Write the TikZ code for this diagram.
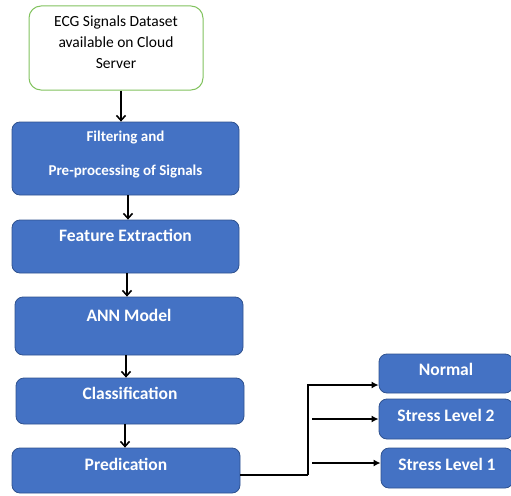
\documentclass[tikz,border=0pt]{standalone}
\usepackage{xcolor}
\usepackage{fontspec}
\setmainfont{Carlito}
\usepackage{tikz}
\usetikzlibrary{arrows.meta,positioning,calc}
\definecolor{boxblue}{RGB}{68,114,196}
\definecolor{boxedge}{RGB}{47,82,143}
\definecolor{srcgreen}{RGB}{130,195,95}
\tikzset{
  src/.style={draw=srcgreen, line width=1pt, rounded corners=12pt, align=center, fill=white, font=\fontsize{15.5}{21}\selectfont},
  stage/.style={draw=boxedge, line width=0.8pt, rounded corners=8pt, align=center, fill=boxblue, text=white, font=\fontsize{17.5}{20}\selectfont\bfseries},
  result/.style={stage, font=\fontsize{17.5}{20}\selectfont\bfseries},
  lift/.style={text depth=#1},
  arrow/.style={-{Straight Barb[length=5pt,width=9pt]}, line width=1.6pt},
  outarrow/.style={-{Latex[length=7pt,width=7pt]}, line width=1.6pt},
  link/.style={line width=1.6pt}
}
\begin{document}
\begin{tikzpicture}[x=1pt,y=1pt]
  \useasboundingbox (0,0) rectangle (511,-495);
  \node[src, minimum width=174pt, minimum height=84pt, lift=11pt] (data) at (116,-48) {ECG Signals Dataset\\available on Cloud\\Server};
  \node[stage, minimum width=227pt, minimum height=73pt, lift=10pt, font=\fontsize{15}{17}\selectfont\bfseries] (filt) at (125.5,-158.5) {Filtering and\\[17pt]Pre-processing of Signals};
  \node[stage, minimum width=227pt, minimum height=53pt, lift=22pt] (feat) at (125.5,-246.5) {Feature Extraction};
  \node[stage, minimum width=228pt, minimum height=58pt, lift=21pt] (ann) at (129,-326) {ANN Model};
  \node[stage, minimum width=228pt, minimum height=46pt, lift=15pt] (cls) at (130,-401) {Classification};
  \node[stage, minimum width=228pt, minimum height=45pt, lift=12pt] (pred) at (126,-470.5) {Predication};
  \node[result, minimum width=134pt, minimum height=39pt, lift=9pt] (normal) at (446,-373.5) {Normal};
  \node[result, minimum width=134pt, minimum height=40pt, lift=8pt] (lvl2) at (446,-419) {Stress Level 2};
  \node[result, minimum width=132pt, minimum height=40pt, lift=8pt] (lvl1) at (447,-468) {Stress Level 1};
  \coordinate (split) at (308,-475);

  \draw[arrow] ([xshift=5pt]data.south) -- ([xshift=5pt]data.south |- filt.north);
  \draw[arrow] ([xshift=2.5pt]filt.south) -- ([xshift=2.5pt]filt.south |- feat.north);
  \draw[arrow] ([xshift=1.5pt]feat.south) -- ([xshift=1.5pt]feat.south |- ann.north);
  \draw[arrow] ([xshift=-3pt]ann.south) -- ([xshift=-3pt]ann.south |- cls.north);
  \draw[arrow] ([xshift=-5pt]cls.south) -- ([xshift=-5pt]cls.south |- pred.north);
  \draw[link] ([yshift=-4.5pt]pred.east) -- (split);
  \draw[outarrow] (split) |- ([yshift=-11.5pt]normal.west);
  \draw[outarrow] ($(split |- lvl2.west)+(4,0)$) -- (lvl2.west);
  \draw[outarrow] ($(split |- lvl1.west)+(4,5)$) -- ([yshift=5pt]lvl1.west);
\end{tikzpicture}
\end{document}
